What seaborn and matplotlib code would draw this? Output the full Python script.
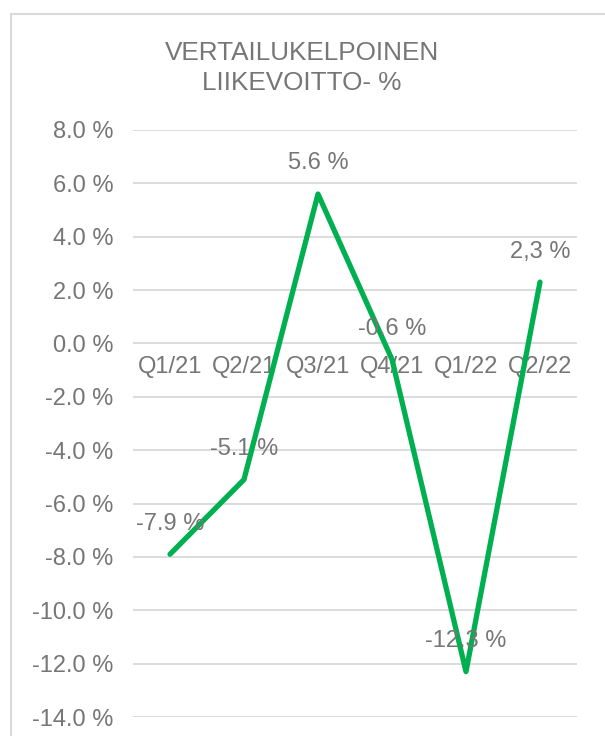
import numpy as np
import pandas as pd
import seaborn as sns
import matplotlib.pyplot as plt
from matplotlib.patches import Rectangle
from matplotlib.ticker import FuncFormatter

quarters = ['Q1/21', 'Q2/21', 'Q3/21', 'Q4/21', 'Q1/22', 'Q2/22']
margin_pct = [-7.9, -5.1, 5.6, -0.6, -12.3, 2.3]
point_labels = ['-7.9 %', '-5.1 %', '5.6 %', '-0.6 %', '-12.3 %', '2,3 %']
y_ticks = [8, 6, 4, 2, 0, -2, -4, -6, -8, -10, -12, -14]

grey_txt = '#767676'
grid_col = '#D9D9D9'
green = '#00B050'

sns.set_style('white')
plt.rcParams['font.family'] = ['Liberation Sans', 'DejaVu Sans']

df = pd.DataFrame({'Quarter': quarters, 'Value': margin_pct})

fig = plt.figure(figsize=(6.05, 7.36), dpi=100)
W, H = 605, 736
ax = fig.add_axes([133 / W, 1 - 717 / H, (577 - 133) / W, (717 - 130) / H])

# chart frame (cropped on right and bottom)
fig.patches.append(Rectangle((11 / W, -0.05), 1.2, 1 - 14 / H + 0.05,
                             transform=fig.transFigure, fill=False,
                             edgecolor=grid_col, linewidth=1.5))

for t in y_ticks:
    ax.axhline(t, color=grid_col, linewidth=1.3, zorder=0)

x_pos = np.arange(len(quarters))
sns.lineplot(x=x_pos, y=df['Value'], color=green, linewidth=3.8, ax=ax,
             solid_capstyle='round', solid_joinstyle='round', zorder=3)

for xi, v, lab in zip(x_pos, margin_pct, point_labels):
    ax.annotate(lab, (xi, v), xytext=(0, 22), textcoords='offset points',
                ha='center', va='center', fontsize=17, color=grey_txt, zorder=4)

ax.set_xlim(-0.5, len(quarters) - 0.5)
ax.set_ylim(-14, 8)
ax.set_yticks(y_ticks)
ax.yaxis.set_major_formatter(FuncFormatter(lambda v, p: f'{v:.1f} %'))
ax.set_xticks(x_pos)
ax.set_xticklabels(quarters)
ax.spines['bottom'].set_position(('data', 0))
for s in ax.spines.values():
    s.set_visible(False)
ax.tick_params(axis='y', length=0, pad=14, labelsize=17, labelcolor=grey_txt)
ax.tick_params(axis='x', length=0, pad=9, labelsize=17, labelcolor=grey_txt)
ax.set_xlabel('')
ax.set_ylabel('')

fig.text(302 / W, 1 - 68 / H, 'VERTAILUKELPOINEN\nLIIKEVOITTO- %', ha='center',
         va='center', fontsize=18.8, color=grey_txt, linespacing=1.32)

plt.savefig('out.png', dpi=100)
